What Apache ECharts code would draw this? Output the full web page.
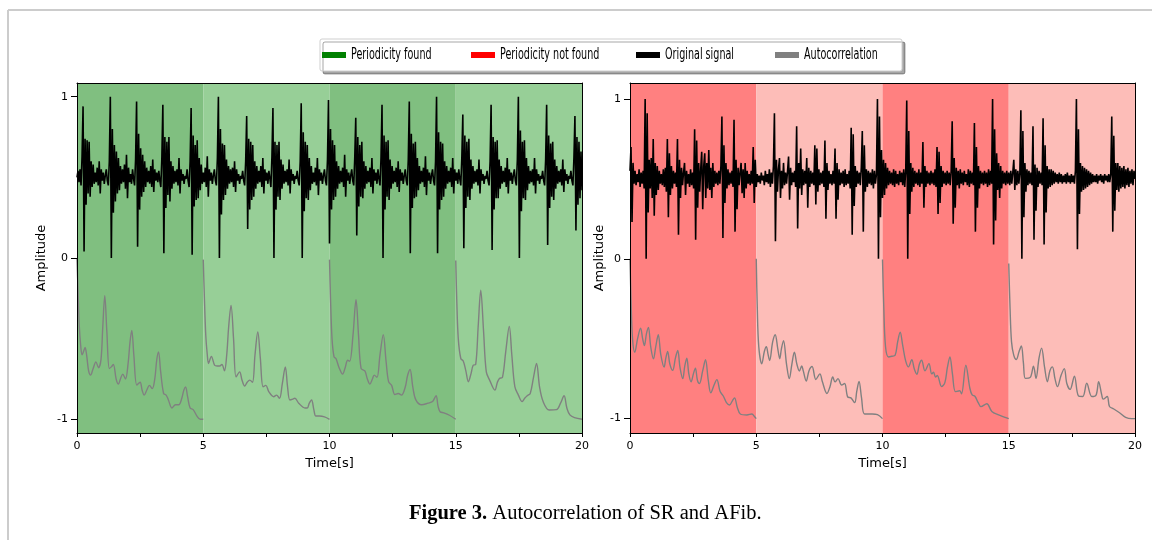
<!DOCTYPE html>
<html>
<head>
<meta charset="utf-8">
<script src="https://cdn.jsdelivr.net/npm/echarts@6/dist/echarts.min.js"></script>
<style>
  html, body { margin: 0; padding: 0; background: #fff; }
  #chart { width: 1152px; height: 540px; }
</style>
</head>
<body>
<div id="chart"></div>
<script>
// Sampling step of the plotted ECG traces (seconds between samples)
const SAMPLE_STEP = 0.04;

// 5 s analysis windows
const windowEdges = [0, 5, 10, 15, 20];

// Left panel: sinus rhythm trace, one line per heartbeat cycle
const srSignal = [
  0.5, 0.54, 0.47, 0.55, 0.45, 0.63,
  0.94, 0.04, 0.74, 0.33, 0.73, 0.4, 0.72, 0.38, 0.6, 0.44, 0.58, 0.46, 0.53, 0.47, 0.56, 0.45, 0.6, 0.4, 0.55, 0.48, 0.53, 0.46, 0.51, 0.55, 0.48, 0.45, 0.6,
  1.0, 0.0, 0.8, 0.28, 0.7, 0.35, 0.66, 0.4, 0.62, 0.42, 0.57, 0.46, 0.55, 0.47, 0.58, 0.43, 0.64, 0.37, 0.56, 0.47, 0.52, 0.46, 0.55, 0.49, 0.45, 0.61,
  0.97, 0.07, 0.77, 0.3, 0.68, 0.38, 0.64, 0.41, 0.6, 0.44, 0.56, 0.47, 0.54, 0.46, 0.57, 0.44, 0.61, 0.41, 0.55, 0.48, 0.53, 0.47, 0.54, 0.48, 0.44, 0.62,
  0.95, 0.03, 0.75, 0.31, 0.72, 0.39, 0.75, 0.35, 0.6, 0.43, 0.57, 0.46, 0.54, 0.47, 0.55, 0.45, 0.62, 0.4, 0.55, 0.48, 0.52, 0.46, 0.51, 0.49, 0.55, 0.48, 0.44, 0.6,
  0.93, 0.02, 0.76, 0.32, 0.7, 0.36, 0.73, 0.37, 0.62, 0.42, 0.58, 0.46, 0.53, 0.47, 0.56, 0.44, 0.63, 0.38, 0.55, 0.48, 0.53, 0.46, 0.51, 0.55, 0.48, 0.45, 0.62,
  1.0, 0.0, 0.8, 0.27, 0.71, 0.36, 0.7, 0.39, 0.61, 0.43, 0.57, 0.46, 0.55, 0.47, 0.56, 0.44, 0.6, 0.41, 0.55, 0.48, 0.52, 0.46, 0.51, 0.49, 0.54, 0.48, 0.45, 0.6,
  0.88, 0.18, 0.74, 0.3, 0.72, 0.36, 0.7, 0.38, 0.6, 0.43, 0.57, 0.46, 0.54, 0.47, 0.57, 0.44, 0.62, 0.4, 0.55, 0.48, 0.53, 0.46, 0.54, 0.49, 0.44, 0.63,
  0.93, 0.0, 0.72, 0.3, 0.7, 0.38, 0.72, 0.36, 0.61, 0.43, 0.58, 0.46, 0.54, 0.47, 0.55, 0.45, 0.61, 0.4, 0.55, 0.48, 0.52, 0.46, 0.51, 0.49, 0.54, 0.48, 0.45, 0.6,
  0.96, 0.0, 0.78, 0.29, 0.72, 0.37, 0.7, 0.36, 0.62, 0.42, 0.57, 0.46, 0.53, 0.47, 0.56, 0.45, 0.62, 0.39, 0.55, 0.48, 0.53, 0.46, 0.51, 0.55, 0.48, 0.45, 0.61,
  0.98, 0.09, 0.8, 0.3, 0.73, 0.36, 0.7, 0.38, 0.6, 0.43, 0.57, 0.46, 0.54, 0.47, 0.56, 0.44, 0.64, 0.38, 0.55, 0.48, 0.53, 0.46, 0.51, 0.55, 0.48, 0.45, 0.62,
  0.87, 0.14, 0.75, 0.32, 0.7, 0.38, 0.72, 0.37, 0.6, 0.43, 0.57, 0.46, 0.54, 0.47, 0.56, 0.44, 0.62, 0.4, 0.55, 0.48, 0.53, 0.46, 0.55, 0.49, 0.45, 0.62,
  0.95, 0.0, 0.76, 0.3, 0.72, 0.38, 0.73, 0.36, 0.61, 0.43, 0.57, 0.46, 0.54, 0.47, 0.56, 0.44, 0.6, 0.41, 0.55, 0.48, 0.53, 0.46, 0.51, 0.55, 0.48, 0.45, 0.61,
  0.97, 0.03, 0.77, 0.31, 0.71, 0.37, 0.72, 0.38, 0.62, 0.42, 0.57, 0.46, 0.54, 0.47, 0.56, 0.44, 0.63, 0.39, 0.55, 0.48, 0.53, 0.46, 0.51, 0.55, 0.48, 0.45, 0.6,
  1.0, 0.03, 0.78, 0.3, 0.72, 0.36, 0.71, 0.38, 0.6, 0.43, 0.57, 0.46, 0.54, 0.47, 0.56, 0.44, 0.62, 0.4, 0.55, 0.48, 0.53, 0.46, 0.55, 0.49, 0.45, 0.62,
  0.89, 0.06, 0.76, 0.31, 0.72, 0.38, 0.74, 0.36, 0.61, 0.43, 0.57, 0.46, 0.54, 0.47, 0.55, 0.45, 0.61, 0.4, 0.55, 0.48, 0.52, 0.46, 0.51, 0.49, 0.54, 0.48, 0.45, 0.6,
  0.95, 0.05, 0.75, 0.3, 0.72, 0.37, 0.73, 0.37, 0.61, 0.43, 0.57, 0.46, 0.54, 0.47, 0.56, 0.44, 0.62, 0.4, 0.55, 0.48, 0.53, 0.46, 0.51, 0.55, 0.48, 0.45, 0.61,
  1.0, 0.0, 0.79, 0.29, 0.72, 0.37, 0.73, 0.36, 0.62, 0.42, 0.57, 0.46, 0.54, 0.47, 0.55, 0.45, 0.62, 0.4, 0.55, 0.48, 0.52, 0.46, 0.51, 0.49, 0.54, 0.48, 0.45, 0.61,
  0.95, 0.08, 0.76, 0.31, 0.71, 0.38, 0.72, 0.36, 0.61, 0.43, 0.57, 0.46, 0.54, 0.47, 0.55, 0.45, 0.61, 0.41, 0.55, 0.48, 0.52, 0.46, 0.51, 0.49, 0.54, 0.48, 0.45, 0.62,
  0.88, 0.17, 0.75, 0.33, 0.72, 0.37, 0.66, 0.42
];

// Right panel: atrial fibrillation trace, one line per second
const afSignal = [
  0.55, 0.7, 0.23, 0.6, 0.47, 0.55, 0.46, 0.53, 0.48, 0.56, 0.45, 0.54, 0.47, 0.55, 0.44, 1.0, 0.0, 0.91, 0.29, 0.62, 0.44, 0.63, 0.38, 0.75, 0.27,
  0.6, 0.4, 0.58, 0.43, 0.55, 0.47, 0.53, 0.46, 0.56, 0.45, 0.57, 0.42, 0.75, 0.26, 0.66, 0.4, 0.58, 0.44, 0.55, 0.47, 0.54, 0.45, 0.75, 0.15, 0.62,
  0.38, 0.57, 0.46, 0.54, 0.6, 0.4, 0.55, 0.47, 0.53, 0.45, 0.56, 0.46, 0.54, 0.44, 0.81, 0.12, 0.74, 0.32, 0.6, 0.42, 0.56, 0.67, 0.31, 0.58, 0.66,
  0.38, 0.6, 0.44, 0.68, 0.43, 0.57, 0.38, 0.6, 0.45, 0.55, 0.47, 0.54, 0.46, 0.55, 0.47, 0.58, 0.89, 0.13, 0.71, 0.35, 0.6, 0.44, 0.56, 0.46, 0.54,
  0.47, 0.55, 0.45, 0.87, 0.17, 0.62, 0.31, 0.57, 0.46, 0.54, 0.6, 0.41, 0.56, 0.38, 0.6, 0.44, 0.55, 0.47, 0.53, 0.46, 0.55, 0.47, 0.7, 0.35, 0.62,
  0.45, 0.53, 0.48, 0.52, 0.47, 0.54, 0.49, 0.52, 0.46, 0.55, 0.48, 0.53, 0.47, 0.56, 0.45, 0.54, 0.47, 0.58, 0.91, 0.11, 0.62, 0.42, 0.56, 0.63, 0.38,
  0.55, 0.44, 0.6, 0.46, 0.54, 0.47, 0.55, 0.64, 0.37, 0.57, 0.46, 0.54, 0.48, 0.55, 0.45, 0.83, 0.19, 0.6, 0.44, 0.69, 0.4, 0.56, 0.46, 0.55, 0.47,
  0.63, 0.32, 0.57, 0.45, 0.55, 0.47, 0.54, 0.46, 0.71, 0.34, 0.69, 0.42, 0.56, 0.46, 0.54, 0.47, 0.55, 0.45, 0.74, 0.25, 0.6, 0.43, 0.55, 0.47, 0.53,
  0.46, 0.55, 0.47, 0.69, 0.25, 0.6, 0.37, 0.56, 0.46, 0.54, 0.47, 0.55, 0.45, 0.56, 0.46, 0.53, 0.47, 0.55, 0.44, 0.82, 0.15, 0.78, 0.33, 0.58, 0.45,
  0.55, 0.47, 0.54, 0.46, 0.57, 0.8, 0.17, 0.71, 0.42, 0.56, 0.45, 0.55, 0.47, 0.54, 0.46, 0.56, 0.44, 0.55, 0.47, 0.53, 1.0, 0.0, 0.89, 0.26, 0.68,
  0.38, 0.62, 0.4, 0.6, 0.44, 0.57, 0.46, 0.55, 0.47, 0.54, 0.46, 0.56, 0.45, 0.55, 0.47, 0.53, 0.46, 0.55, 0.48, 0.54, 0.46, 0.56, 0.45, 0.55, 0.99,
  0.0, 0.8, 0.28, 0.6, 0.42, 0.57, 0.45, 0.55, 0.47, 0.54, 0.46, 0.56, 0.45, 0.54, 0.47, 0.73, 0.32, 0.58, 0.45, 0.55, 0.47, 0.54, 0.46, 0.55, 0.47,
  0.54, 0.46, 0.56, 0.45, 0.7, 0.28, 0.67, 0.35, 0.58, 0.45, 0.55, 0.47, 0.54, 0.46, 0.55, 0.47, 0.54, 0.46, 0.55, 0.86, 0.22, 0.63, 0.32, 0.57, 0.46,
  0.55, 0.44, 0.56, 0.47, 0.54, 0.46, 0.55, 0.48, 0.53, 0.46, 0.56, 0.45, 0.55, 0.47, 0.54, 0.46, 0.85, 0.17, 0.7, 0.32, 0.58, 0.44, 0.55, 0.47, 0.54,
  0.46, 0.55, 0.47, 0.54, 0.45, 0.56, 0.46, 0.55, 0.47, 1.0, 0.09, 0.81, 0.24, 0.66, 0.43, 0.6, 0.38, 0.58, 0.44, 0.55, 0.47, 0.54, 0.46, 0.55, 0.47,
  0.54, 0.46, 0.55, 0.47, 0.54, 0.62, 0.43, 0.56, 0.46, 0.55, 0.47, 0.54, 0.93, 0.0, 0.8, 0.26, 0.6, 0.42, 0.56, 0.46, 0.55, 0.47, 0.54, 0.46, 0.83,
  0.12, 0.59, 0.3, 0.57, 0.45, 0.55, 0.47, 0.54, 0.46, 0.88, 0.09, 0.71, 0.29, 0.58, 0.44, 0.56, 0.45, 0.56, 0.46, 0.55, 0.47, 0.54, 0.48, 0.53, 0.47,
  0.54, 0.48, 0.53, 0.47, 0.52, 0.48, 0.53, 0.47, 0.54, 0.48, 0.52, 0.47, 0.53, 0.48, 0.52, 0.47, 0.55, 1.0, 0.06, 0.81, 0.28, 0.6, 0.42, 0.58, 0.43,
  0.57, 0.44, 0.56, 0.45, 0.55, 0.46, 0.54, 0.47, 0.53, 0.48, 0.52, 0.48, 0.53, 0.47, 0.52, 0.49, 0.53, 0.48, 0.52, 0.47, 0.53, 0.49, 0.52, 0.48, 0.53,
  0.48, 0.53, 0.89, 0.17, 0.77, 0.3, 0.6, 0.43, 0.6, 0.42, 0.58, 0.44, 0.57, 0.45, 0.58, 0.44, 0.56, 0.46, 0.57, 0.45, 0.55, 0.47, 0.56, 0.46, 0.55,
  0.5
];

// Autocorrelation of each window, shifted down by 1 ([time, value])
const srAcfW1 = [[0,0],[0.04,-0.2],[0.09,-0.42],[0.15,-0.55],[0.2,-0.6],[0.26,-0.58],[0.32,-0.555],[0.38,-0.6],[0.46,-0.7],[0.54,-0.726],[0.63,-0.69],[0.75,-0.644],[0.85,-0.68],[0.95,-0.63],[1.02,-0.43],[1.1,-0.233],[1.18,-0.45],[1.28,-0.685],[1.36,-0.675],[1.44,-0.66],[1.55,-0.75],[1.64,-0.782],[1.72,-0.75],[1.81,-0.72],[1.92,-0.75],[2.02,-0.66],[2.1,-0.52],[2.17,-0.449],[2.25,-0.6],[2.37,-0.788],[2.5,-0.77],[2.58,-0.82],[2.66,-0.85],[2.76,-0.82],[2.87,-0.79],[2.98,-0.81],[3.08,-0.75],[3.16,-0.63],[3.23,-0.582],[3.31,-0.7],[3.43,-0.84],[3.53,-0.85],[3.62,-0.88],[3.76,-0.93],[3.9,-0.91],[4.03,-0.91],[4.15,-0.87],[4.23,-0.82],[4.3,-0.8],[4.38,-0.86],[4.48,-0.93],[4.6,-0.94],[4.75,-0.98],[4.88,-1.0],[5,-1.0]];
const srAcfW2 = [[5,-0.01],[5.04,-0.22],[5.1,-0.48],[5.16,-0.6],[5.21,-0.654],[5.32,-0.61],[5.45,-0.665],[5.55,-0.67],[5.65,-0.67],[5.74,-0.66],[5.84,-0.7],[5.93,-0.6],[6.01,-0.42],[6.1,-0.294],[6.2,-0.5],[6.3,-0.737],[6.44,-0.706],[6.54,-0.76],[6.64,-0.794],[6.74,-0.77],[6.84,-0.757],[6.95,-0.77],[7.05,-0.6],[7.16,-0.459],[7.26,-0.62],[7.37,-0.798],[7.48,-0.79],[7.6,-0.83],[7.79,-0.86],[7.9,-0.85],[8.02,-0.87],[8.13,-0.78],[8.25,-0.675],[8.34,-0.8],[8.43,-0.88],[8.55,-0.875],[8.63,-0.87],[8.78,-0.9],[9.03,-0.93],[9.12,-0.93],[9.2,-0.9],[9.29,-0.88],[9.38,-0.94],[9.46,-0.98],[9.6,-0.98],[9.8,-0.985],[10,-1.0]];
const srAcfW3 = [[10,-0.01],[10.04,-0.25],[10.1,-0.5],[10.18,-0.613],[10.26,-0.625],[10.38,-0.68],[10.52,-0.72],[10.62,-0.68],[10.72,-0.634],[10.8,-0.64],[10.93,-0.48],[11.05,-0.259],[11.15,-0.48],[11.25,-0.685],[11.4,-0.7],[11.5,-0.75],[11.6,-0.782],[11.7,-0.75],[11.77,-0.726],[11.88,-0.74],[12.0,-0.6],[12.13,-0.475],[12.24,-0.64],[12.34,-0.767],[12.46,-0.79],[12.59,-0.846],[12.72,-0.84],[12.85,-0.85],[13.0,-0.8],[13.09,-0.73],[13.19,-0.691],[13.3,-0.8],[13.42,-0.88],[13.65,-0.91],[13.9,-0.9],[14.08,-0.89],[14.22,-0.854],[14.3,-0.92],[14.38,-0.953],[14.53,-0.96],[14.75,-0.975],[15,-1.0]];
const srAcfW4 = [[15,-0.015],[15.04,-0.26],[15.1,-0.5],[15.2,-0.623],[15.3,-0.64],[15.4,-0.7],[15.5,-0.767],[15.6,-0.72],[15.69,-0.665],[15.79,-0.66],[15.89,-0.42],[15.99,-0.2],[16.1,-0.45],[16.21,-0.706],[16.35,-0.76],[16.55,-0.819],[16.65,-0.77],[16.73,-0.747],[16.85,-0.74],[16.98,-0.58],[17.12,-0.424],[17.22,-0.6],[17.34,-0.798],[17.48,-0.85],[17.63,-0.89],[17.73,-0.87],[17.83,-0.854],[17.95,-0.84],[18.08,-0.74],[18.2,-0.654],[18.32,-0.8],[18.46,-0.89],[18.7,-0.942],[18.99,-0.94],[19.15,-0.9],[19.29,-0.854],[19.4,-0.93],[19.52,-0.973],[19.7,-0.99],[20,-1.0]];

const afAcfW1 = [[0,0],[0.04,-0.25],[0.1,-0.5],[0.19,-0.585],[0.3,-0.5],[0.42,-0.434],[0.5,-0.5],[0.57,-0.543],[0.65,-0.47],[0.73,-0.43],[0.82,-0.55],[0.93,-0.626],[1.02,-0.55],[1.12,-0.475],[1.22,-0.6],[1.35,-0.678],[1.42,-0.62],[1.49,-0.579],[1.58,-0.66],[1.69,-0.698],[1.8,-0.62],[1.89,-0.574],[1.98,-0.68],[2.09,-0.75],[2.17,-0.67],[2.25,-0.622],[2.33,-0.72],[2.42,-0.77],[2.51,-0.72],[2.59,-0.684],[2.67,-0.76],[2.75,-0.78],[2.88,-0.7],[2.99,-0.632],[3.1,-0.76],[3.2,-0.839],[3.33,-0.79],[3.44,-0.756],[3.57,-0.83],[3.7,-0.86],[3.82,-0.9],[3.94,-0.915],[4.05,-0.89],[4.14,-0.87],[4.25,-0.93],[4.37,-0.971],[4.63,-0.977],[4.83,-0.971],[4.92,-0.985],[5,-1.0]];
const afAcfW2 = [[5,0],[5.04,-0.3],[5.1,-0.55],[5.22,-0.657],[5.32,-0.58],[5.4,-0.55],[5.47,-0.6],[5.53,-0.636],[5.65,-0.52],[5.75,-0.475],[5.85,-0.56],[5.93,-0.625],[6.0,-0.56],[6.08,-0.512],[6.2,-0.66],[6.31,-0.75],[6.41,-0.66],[6.51,-0.585],[6.61,-0.66],[6.71,-0.702],[6.8,-0.67],[6.86,-0.7],[6.98,-0.765],[7.09,-0.7],[7.21,-0.674],[7.36,-0.755],[7.52,-0.72],[7.62,-0.77],[7.8,-0.843],[7.92,-0.8],[8.03,-0.74],[8.12,-0.77],[8.24,-0.75],[8.38,-0.79],[8.5,-0.78],[8.62,-0.864],[8.75,-0.87],[8.9,-0.9],[8.98,-0.83],[9.07,-0.767],[9.17,-0.87],[9.29,-0.971],[9.59,-0.971],[9.8,-0.975],[10,-1.0]];
const afAcfW3 = [[10,-0.005],[10.05,-0.3],[10.12,-0.55],[10.24,-0.614],[10.37,-0.61],[10.5,-0.604],[10.6,-0.52],[10.7,-0.46],[10.8,-0.542],[10.92,-0.64],[11.03,-0.676],[11.16,-0.631],[11.26,-0.69],[11.36,-0.722],[11.46,-0.66],[11.55,-0.635],[11.68,-0.701],[11.84,-0.656],[11.95,-0.72],[12.02,-0.71],[12.1,-0.74],[12.17,-0.73],[12.34,-0.8],[12.47,-0.775],[12.57,-0.68],[12.67,-0.614],[12.77,-0.72],[12.89,-0.831],[13.06,-0.826],[13.13,-0.845],[13.3,-0.666],[13.46,-0.81],[13.55,-0.852],[13.66,-0.86],[13.79,-0.9],[13.9,-0.925],[14.13,-0.907],[14.33,-0.955],[14.6,-0.976],[15,-1.0]];
const afAcfW4 = [[15,-0.03],[15.05,-0.3],[15.11,-0.52],[15.2,-0.604],[15.3,-0.63],[15.41,-0.58],[15.5,-0.546],[15.58,-0.65],[15.66,-0.748],[15.85,-0.742],[15.98,-0.672],[16.08,-0.748],[16.2,-0.62],[16.3,-0.559],[16.42,-0.68],[16.53,-0.769],[16.63,-0.7],[16.73,-0.676],[16.83,-0.75],[16.93,-0.8],[17.07,-0.73],[17.2,-0.687],[17.3,-0.78],[17.43,-0.817],[17.6,-0.734],[17.76,-0.858],[17.93,-0.862],[18.09,-0.779],[18.29,-0.862],[18.46,-0.852],[18.56,-0.769],[18.68,-0.85],[18.74,-0.878],[18.9,-0.862],[18.99,-0.924],[19.16,-0.94],[19.4,-0.965],[19.63,-0.992],[19.87,-1.0],[20,-1.0]];

const xLabelTicks = [0, 5, 10, 15, 20];
const yTicks = [-1, 0, 1];

const legendNames = ['Periodicity found', 'Periodicity not found', 'Original signal', 'Autocorrelation'];
const legendColors = ['#008000', '#ff0000', '#000000', '#808080'];

const greenShades = ['#80bf80', '#97cf97'];
const redShades = ['#ff8080', '#fdbdb8'];

const chart = echarts.init(document.getElementById('chart'), null, { renderer: 'canvas' });

function toPoints(values) {
  return values.map((v, i) => [+(i * SAMPLE_STEP).toFixed(2), v]);
}

function shadeAreas(shades) {
  const areas = [];
  for (let w = 0; w < windowEdges.length - 1; w++) {
    areas.push([
      { xAxis: windowEdges[w], itemStyle: { color: shades[w % 2] } },
      { xAxis: windowEdges[w + 1] }
    ]);
  }
  return areas;
}

const axisFont = { color: '#000', fontFamily: 'DejaVu Sans', fontSize: 11 };
const nameFont = { color: '#000', fontFamily: 'DejaVu Sans', fontSize: 13 };
const spine = { show: true, onZero: false, lineStyle: { color: '#000', width: 1 } };

function bottomAxis(gridIndex) {
  return {
    gridIndex, type: 'value', min: 0, max: 20, interval: 2.5, z: 10,
    name: 'Time[s]', nameLocation: 'middle', nameGap: 24, nameTextStyle: nameFont,
    axisLine: spine,
    axisTick: { length: 4, lineStyle: { color: '#000' } },
    axisLabel: Object.assign({ margin: 8, formatter: v => (xLabelTicks.includes(v) ? String(v) : '') }, axisFont),
    splitLine: { show: false }
  };
}
function topAxis(gridIndex) {
  return {
    gridIndex, type: 'value', min: 0, max: 20, position: 'top', z: 10,
    axisLine: spine,
    axisTick: { show: false }, axisLabel: { show: false }, splitLine: { show: false }
  };
}
function leftAxis(gridIndex, min, max, nameGap) {
  return {
    gridIndex, type: 'value', min, max, z: 10,
    name: 'Amplitude', nameLocation: 'middle', nameGap, nameTextStyle: nameFont,
    axisLine: spine,
    axisTick: { show: true, length: 6, customValues: yTicks, lineStyle: { color: '#000' } },
    axisLabel: Object.assign({ margin: 9, customValues: yTicks }, axisFont),
    splitLine: { show: false }
  };
}
function rightAxis(gridIndex, min, max) {
  return {
    gridIndex, type: 'value', min, max, position: 'right', z: 10,
    axisLine: spine,
    axisTick: { show: false }, axisLabel: { show: false }, splitLine: { show: false }
  };
}

function acfSeries(win, axisIndex) {
  return {
    name: 'Autocorrelation', type: 'line', xAxisIndex: axisIndex, yAxisIndex: axisIndex,
    data: win, showSymbol: false, smooth: 0.35, z: 4,
    lineStyle: { color: '#808080', width: 1.4 }, silent: true
  };
}

// Legend drawn as graphic elements to match the condensed legend box
const legendX = [322, 471, 636, 775];
const legendGraphics = [{
  type: 'rect', shape: { x: 320, y: 39, width: 582, height: 32, r: 2 },
  style: { fill: '#fff', stroke: '#cfcfcf', lineWidth: 1, shadowColor: 'rgba(0,0,0,0.35)', shadowOffsetX: 3, shadowOffsetY: 3, shadowBlur: 0 },
  z: 10
}];
legendNames.forEach((name, i) => {
  legendGraphics.push({
    type: 'rect', shape: { x: legendX[i], y: 52, width: 24, height: 6 },
    style: { fill: legendColors[i] }, z: 11
  });
  legendGraphics.push({
    type: 'text', x: legendX[i] + 29, y: 55, scaleX: 0.6, z: 11,
    style: { text: name, fontFamily: 'DejaVu Sans', fontSize: 16, fill: '#000', verticalAlign: 'middle' }
  });
});

const option = {
  animation: false,
  backgroundColor: '#fff',
  title: {
    text: '{b|Figure 3.} Autocorrelation of SR and AFib.',
    left: 404, top: 498,
    textStyle: {
      fontFamily: 'Liberation Serif', fontSize: 20.5, fontWeight: 'normal', color: '#000',
      rich: { b: { fontFamily: 'Liberation Serif', fontSize: 20.5, fontWeight: 'bold', color: '#000' } }
    }
  },
  grid: [
    { left: 77, top: 83, width: 505, height: 350 },
    { left: 630, top: 83, width: 505, height: 350 }
  ],
  xAxis: [bottomAxis(0), bottomAxis(1), topAxis(0), topAxis(1)],
  yAxis: [leftAxis(0, -1.085, 1.085, 29), leftAxis(1, -1.09, 1.1, 21), rightAxis(0, -1.085, 1.085), rightAxis(1, -1.09, 1.1)],
  series: [
    {
      name: 'Periodicity found', type: 'line', xAxisIndex: 0, yAxisIndex: 0, data: [], z: 1, silent: true,
      markArea: { silent: true, data: shadeAreas(greenShades) }
    },
    {
      name: 'Periodicity not found', type: 'line', xAxisIndex: 1, yAxisIndex: 1, data: [], z: 1, silent: true,
      markArea: { silent: true, data: shadeAreas(redShades) }
    },
    {
      name: 'Original signal', type: 'line', xAxisIndex: 0, yAxisIndex: 0, data: toPoints(srSignal),
      showSymbol: false, z: 3, silent: true, lineStyle: { color: '#000', width: 1.6 }
    },
    {
      name: 'Original signal', type: 'line', xAxisIndex: 1, yAxisIndex: 1, data: toPoints(afSignal),
      showSymbol: false, z: 3, silent: true, lineStyle: { color: '#000', width: 1.6 }
    },
    acfSeries(srAcfW1, 0), acfSeries(srAcfW2, 0), acfSeries(srAcfW3, 0), acfSeries(srAcfW4, 0),
    acfSeries(afAcfW1, 1), acfSeries(afAcfW2, 1), acfSeries(afAcfW3, 1), acfSeries(afAcfW4, 1)
  ],
  graphic: [
    { type: 'line', shape: { x1: 8, y1: 10, x2: 1152, y2: 10 }, style: { stroke: '#cccccc', lineWidth: 2 } },
    { type: 'line', shape: { x1: 8, y1: 10, x2: 8, y2: 540 }, style: { stroke: '#cccccc', lineWidth: 2 } }
  ].concat(legendGraphics)
};

chart.setOption(option);
</script>
</body>
</html>
